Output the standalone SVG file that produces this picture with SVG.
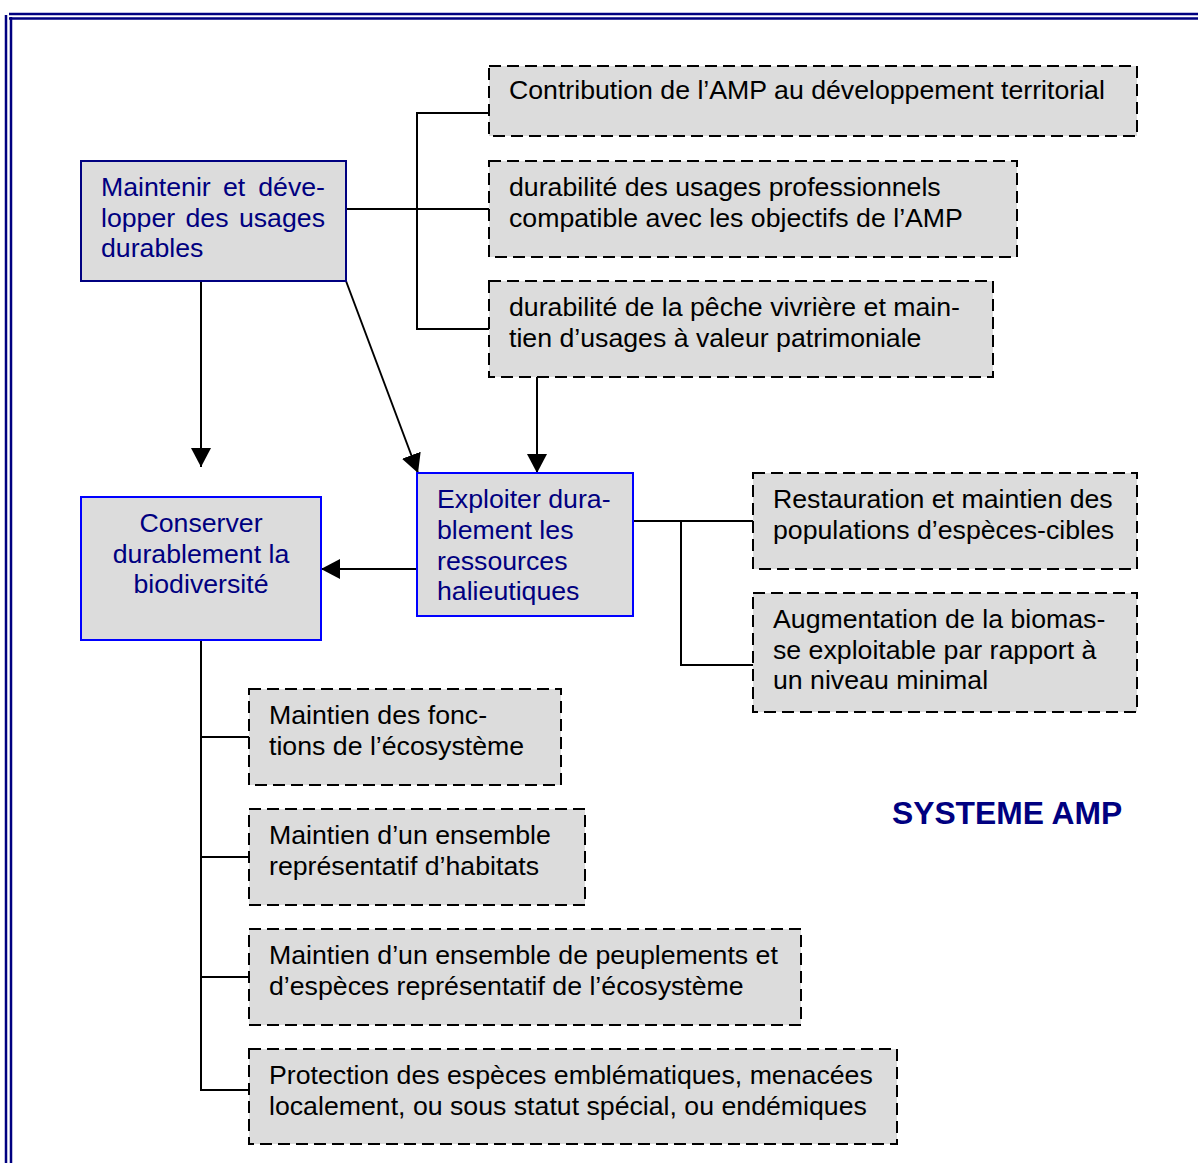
<svg xmlns="http://www.w3.org/2000/svg" width="1198" height="1163" viewBox="0 0 1198 1163">
<defs>
<style>
.frame{stroke:#000080;stroke-width:2.5;fill:none}
.solidN{fill:#dcdcdc;stroke:#000080;stroke-width:2}
.solidB{fill:#dcdcdc;stroke:#0000ff;stroke-width:2}
.dash{fill:#dcdcdc;stroke:#000;stroke-width:2;stroke-dasharray:12 6}
.t{font-family:"Liberation Sans",Arial,Helvetica,sans-serif;font-size:26.7px;fill:#000}
.tb{font-family:"Liberation Sans",Arial,Helvetica,sans-serif;font-size:26.7px;fill:#000080}
.title{font-family:"Liberation Sans",Arial,Helvetica,sans-serif;font-size:31.8px;font-weight:bold;fill:#000080}
.c{stroke:#000;stroke-width:2;fill:none}
</style>
<marker id="arr" markerUnits="userSpaceOnUse" markerWidth="20" markerHeight="20" refX="19" refY="10" orient="auto">
<path d="M0,0 L19,10 L0,20 z" fill="#000"/>
</marker>
</defs>
<rect width="1198" height="1163" fill="#fff"/>
<g id="frame">
<line class="frame" x1="9" y1="14" x2="1198" y2="14"/>
<line class="frame" x1="9" y1="18.5" x2="1198" y2="18.5"/>
<line class="frame" x1="6" y1="15" x2="6" y2="1163"/>
<line class="frame" x1="11" y1="17" x2="11" y2="1163"/>
</g>
<g id="connectors">
<line class="c" x1="346" y1="209" x2="489" y2="209"/>
<polyline class="c" points="489,113 417,113 417,329 489,329"/>
<line class="c" x1="201" y1="281" x2="201" y2="467" marker-end="url(#arr)"/>
<line class="c" x1="346" y1="281" x2="418" y2="473" marker-end="url(#arr)"/>
<line class="c" x1="537" y1="377" x2="537" y2="473" marker-end="url(#arr)"/>
<line class="c" x1="417" y1="569" x2="321" y2="569" marker-end="url(#arr)"/>
<line class="c" x1="633" y1="521" x2="753" y2="521"/>
<polyline class="c" points="681,521 681,665 753,665"/>
<polyline class="c" points="201,640 201,1090 249,1090"/>
<line class="c" x1="201" y1="737" x2="249" y2="737"/>
<line class="c" x1="201" y1="857" x2="249" y2="857"/>
<line class="c" x1="201" y1="977" x2="249" y2="977"/>
</g>
<g id="n-usages">
<rect class="solidN" x="81" y="161" width="265" height="120"/>
<text class="tb" y="195.5"><tspan x="101">Maintenir</tspan><tspan x="223">et</tspan><tspan x="325" text-anchor="end">déve-</tspan></text>
<text class="tb" y="226.5"><tspan x="101">lopper</tspan><tspan x="185.5">des</tspan><tspan x="325" text-anchor="end">usages</tspan></text>
<text class="tb" x="101" y="257">durables</text>
</g>
<g id="n-biodiv">
<rect class="solidB" x="81" y="497" width="240" height="143"/>
<text class="tb" text-anchor="middle"><tspan x="201" y="531.5">Conserver</tspan><tspan x="201" y="562.5">durablement la</tspan><tspan x="201" y="593">biodiversité</tspan></text>
</g>
<g id="n-exploiter">
<rect class="solidB" x="417" y="473" width="216" height="143"/>
<text class="tb"><tspan x="437" y="507.5">Exploiter dura-</tspan><tspan x="437" y="538.5">blement les</tspan><tspan x="437" y="569.5">ressources</tspan><tspan x="437" y="600">halieutiques</tspan></text>
</g>
<g id="n-contribution">
<rect class="dash" x="489" y="66" width="648" height="70"/>
<text class="t" x="509" y="99">Contribution de l’AMP au développement territorial</text>
</g>
<g id="n-professionnels">
<rect class="dash" x="489" y="161" width="528" height="96"/>
<text class="t"><tspan x="509" y="195.5">durabilité des usages professionnels</tspan><tspan x="509" y="226.5">compatible avec les objectifs de l’AMP</tspan></text>
</g>
<g id="n-peche">
<rect class="dash" x="489" y="281" width="504" height="96"/>
<text class="t"><tspan x="509" y="315.5">durabilité de la pêche vivrière et main-</tspan><tspan x="509" y="346.5">tien d’usages à valeur patrimoniale</tspan></text>
</g>
<g id="n-restauration">
<rect class="dash" x="753" y="473" width="384" height="96"/>
<text class="t"><tspan x="773" y="507.5">Restauration et maintien des</tspan><tspan x="773" y="538.5">populations d’espèces-cibles</tspan></text>
</g>
<g id="n-biomasse">
<rect class="dash" x="753" y="593" width="384" height="119"/>
<text class="t"><tspan x="773" y="627.5">Augmentation de la biomas-</tspan><tspan x="773" y="658.5">se exploitable par rapport à</tspan><tspan x="773" y="689">un niveau minimal</tspan></text>
</g>
<g id="n-fonctions">
<rect class="dash" x="249" y="689" width="312" height="96"/>
<text class="t"><tspan x="269" y="723.5">Maintien des fonc-</tspan><tspan x="269" y="754.5">tions de l’écosystème</tspan></text>
</g>
<g id="n-habitats">
<rect class="dash" x="249" y="809" width="336" height="96"/>
<text class="t"><tspan x="269" y="843.5">Maintien d’un ensemble</tspan><tspan x="269" y="874.5">représentatif d’habitats</tspan></text>
</g>
<g id="n-peuplements">
<rect class="dash" x="249" y="929" width="552" height="96"/>
<text class="t"><tspan x="269" y="963.5">Maintien d’un ensemble de peuplements et</tspan><tspan x="269" y="994.5">d’espèces représentatif de l’écosystème</tspan></text>
</g>
<g id="n-protection">
<rect class="dash" x="249" y="1049" width="648" height="95"/>
<text class="t"><tspan x="269" y="1083.5">Protection des espèces emblématiques, menacées</tspan><tspan x="269" y="1114.5">localement, ou sous statut spécial, ou endémiques</tspan></text>
</g>
<text class="title" x="892" y="824">SYSTEME AMP</text>
</svg>
